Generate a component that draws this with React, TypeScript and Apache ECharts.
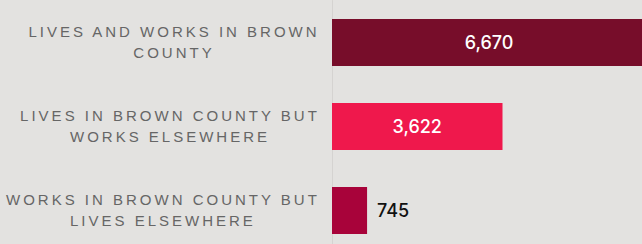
import React, { useEffect, useRef } from "react";
import * as echarts from "echarts";

const categories: string[] = [
  "LIVES AND WORKS IN BROWN\nCOUNTY",
  "LIVES IN BROWN COUNTY BUT\nWORKS ELSEWHERE",
  "WORKS IN BROWN COUNTY BUT\nLIVES ELSEWHERE",
];
const values: number[] = [6670, 3622, 745];
const barColors: string[] = ["#770d2a", "#ef184c", "#a8033a"];

const LABEL_FONT_SIZE = 15;
const LABEL_FONT = "Liberation Sans";
const LETTER_SPACING = 3;

function measure(text: string): number {
  const c = document.createElement("canvas");
  const ctx = c.getContext("2d") as CanvasRenderingContext2D;
  ctx.font = `${LABEL_FONT_SIZE}px "${LABEL_FONT}"`;
  return ctx.measureText(text).width + LETTER_SPACING * text.length;
}

export default function App() {
  const ref = useRef<HTMLDivElement>(null);
  useEffect(() => {
    if (!ref.current) return;
    const chart = echarts.init(ref.current, undefined, { renderer: "svg" });
    const rich: Record<string, any> = {};
    categories.forEach((c, i) => {
      const w = Math.max(...c.split("\n").map(measure));
      rich["c" + i] = {
        width: w,
        align: "center",
        fontSize: LABEL_FONT_SIZE,
        fontFamily: LABEL_FONT,
        color: "#666666",
        lineHeight: 21,
      };
    });
    chart.setOption({
      animation: false,
      backgroundColor: "#e3e2e0",
      grid: { left: 332, right: 0, top: 0.5, bottom: 0.5 },
      xAxis: { type: "value", min: 0, max: 6670, show: false },
      yAxis: {
        type: "category",
        inverse: true,
        data: categories,
        axisTick: { show: false },
        axisLine: { show: true, lineStyle: { color: "#d5d3d1", width: 1 } },
        axisLabel: {
          margin: 12,
          padding: [0, 0, 2, 0],
          formatter: (v: string, idx: number) =>
            v
              .split("\n")
              .map((l) => `{c${idx}|${l}}`)
              .join("\n"),
          rich,
        },
      },
      series: [
        {
          type: "bar",
          barWidth: 47,
          data: values.map((v, i) => ({
            value: v,
            itemStyle: { color: barColors[i] },
            label:
              i < 2
                ? { show: true, position: "inside", color: "#ffffff" }
                : { show: true, position: "right", distance: 10, color: "#111111" },
          })),
          label: {
            fontSize: 18,
            fontFamily: "Inter",
            fontWeight: 500,
            formatter: (p: any) => p.value.toLocaleString("en-US"),
          },
        },
      ],
    });
    const apply = () => {
      ref.current?.querySelectorAll("text").forEach((t) => {
        if (/[A-Z]/.test(t.textContent || "")) {
          (t as SVGTextElement).style.letterSpacing = LETTER_SPACING + "px";
        }
      });
    };
    apply();
    chart.on("finished", apply);
    return () => chart.dispose();
  }, []);
  return (
    <div
      ref={ref}
      style={{ position: "fixed", left: 0, top: 0, width: 646, height: 253, background: "#e3e2e0" }}
    />
  );
}
